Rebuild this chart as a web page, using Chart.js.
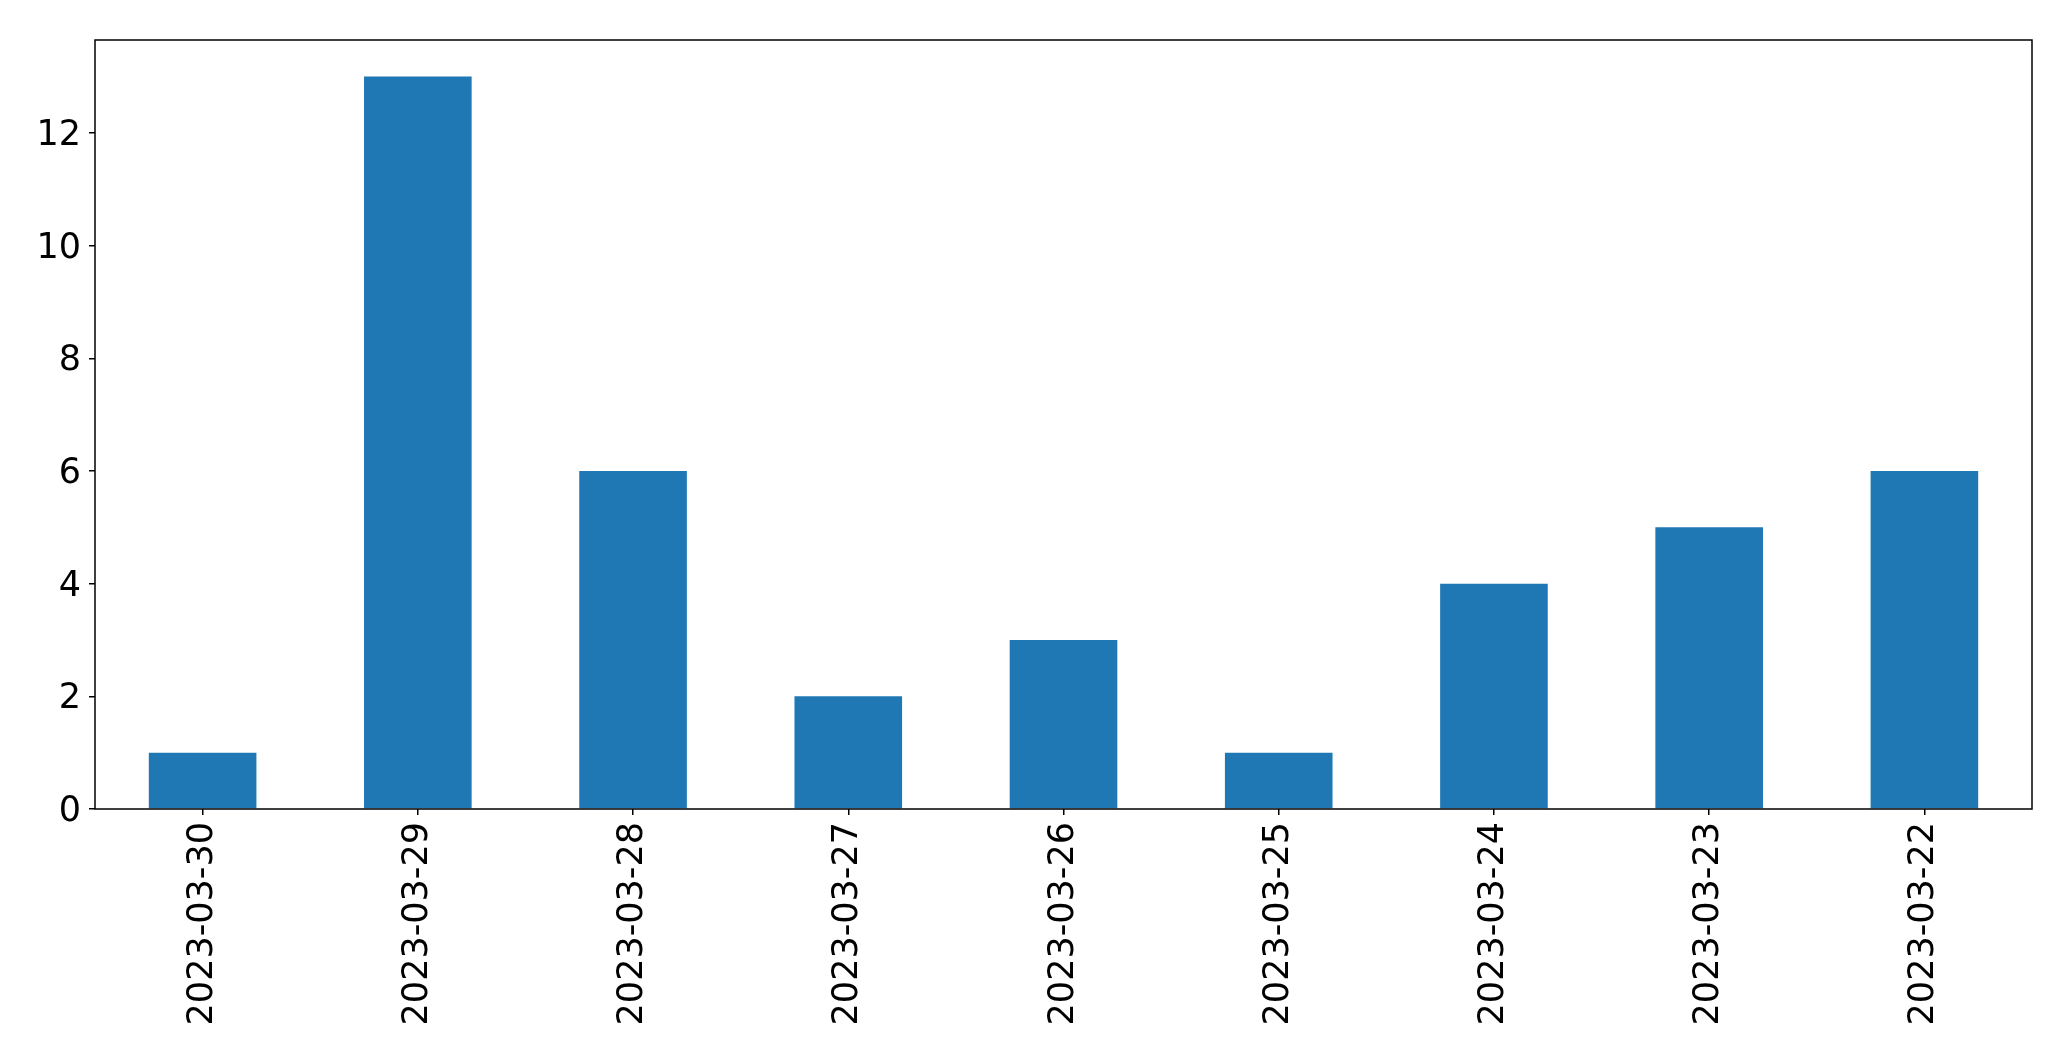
<!DOCTYPE html>
<html>
<head>
<meta charset="utf-8">
<script src="https://cdn.jsdelivr.net/npm/chart.js@4"></script>
<style>
  html, body { margin: 0; padding: 0; background: #fff; }
  canvas { display: block; }
</style>
</head>
<body>
<canvas id="chart" width="2071" height="1061"></canvas>
<script>
const dates = ["2023-03-30","2023-03-29","2023-03-28","2023-03-27","2023-03-26","2023-03-25","2023-03-24","2023-03-23","2023-03-22"];
const counts = [1, 13, 6, 2, 3, 1, 4, 5, 6];
const yTicks = [0, 2, 4, 6, 8, 10, 12];

const fontFamily = "'DejaVu Sans', sans-serif";

// matplotlib-style box around the plot area
const frame = {
    id: "frame",
    afterDraw(chart) {
        const { ctx, chartArea: a } = chart;
        ctx.save();
        ctx.strokeStyle = "#000";
        ctx.lineWidth = 1.5;
        ctx.strokeRect(a.left, a.top, a.right - a.left, a.bottom - a.top);
        ctx.restore();
    }
};

new Chart(document.getElementById("chart"), {
    type: "bar",
    data: {
        labels: dates,
        datasets: [{
            data: counts,
            backgroundColor: "#1f77b4",
            barPercentage: 0.5,
            categoryPercentage: 1.0,
        }]
    },
    options: {
        responsive: false,
        animation: false,
        layout: { padding: { top: 40, right: 39, left: 0, bottom: 0 } },
        plugins: {
            legend: { display: false },
            tooltip: { enabled: false },
        },
        scales: {
            x: {
                offset: true,
                grid: {
                    offset: false,
                    drawOnChartArea: false,
                    drawTicks: true,
                    tickLength: 6,
                    color: "#000",
                    lineWidth: 1.5,
                },
                border: { display: false },
                ticks: {
                    color: "#000",
                    font: { family: fontFamily, size: 35 },
                    minRotation: 90,
                    maxRotation: 90,
                    padding: 7,
                    autoSkip: false,
                },
                afterFit(scale) { scale.height = 252; },
            },
            y: {
                min: 0,
                max: 13.65,
                grid: {
                    drawOnChartArea: false,
                    drawTicks: true,
                    tickLength: 6,
                    color: "#000",
                    lineWidth: 1.5,
                },
                border: { display: false },
                ticks: {
                    stepSize: 2,
                    color: "#000",
                    font: { family: fontFamily, size: 35 },
                    padding: 8,
                    labelOffset: 3,
                },
                afterBuildTicks(scale) {
                    scale.ticks = yTicks.map(v => ({ value: v }));
                },
                afterFit(scale) { scale.width = 95; },
            }
        }
    },
    plugins: [frame]
});
</script>
</body>
</html>
